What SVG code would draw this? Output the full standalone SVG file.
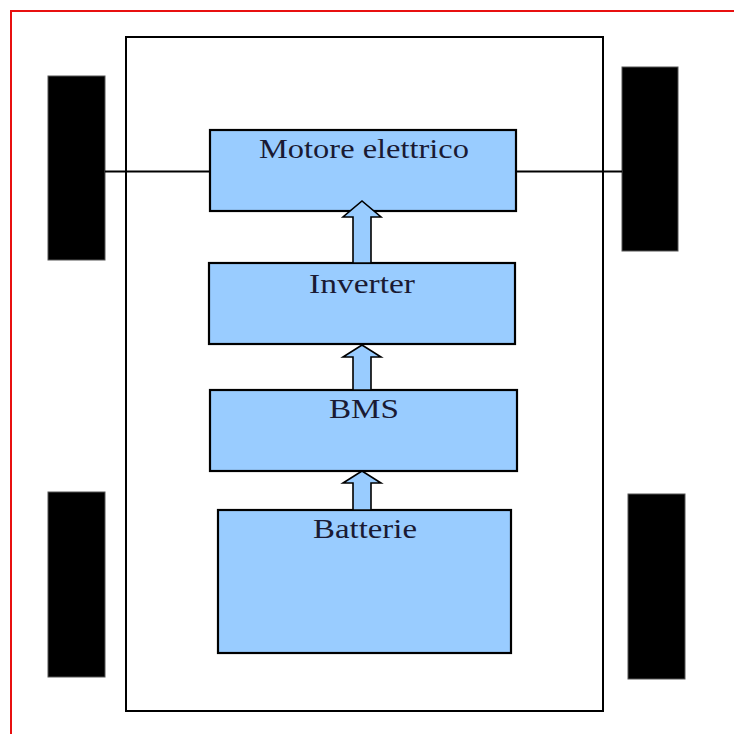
<svg xmlns="http://www.w3.org/2000/svg" width="734" height="734" viewBox="0 0 734 734">
  <style>
    .frame { fill: none; stroke: #e81010; stroke-width: 2; }
    .body { fill: #ffffff; stroke: #000000; stroke-width: 2; }
    .wheel { fill: #000000; stroke: #555555; stroke-width: 1; }
    .axle { stroke: #000000; stroke-width: 2; fill: none; }
    .box { fill: #99ccff; stroke: #000000; stroke-width: 2.2; }
    .arrow { fill: #99ccff; stroke: #000000; stroke-width: 1.6; stroke-linejoin: miter; }
    .label { font-family: "Liberation Serif", "Times New Roman", serif; font-size: 28px; fill: #1a1a33; text-anchor: middle; }
  </style>

  <rect width="734" height="734" fill="#ffffff"/>
  <!-- page border (top and left edges) -->
  <path class="frame" d="M11,734 V11 H734"/>

  <!-- vehicle body -->
  <rect id="body" class="body" x="126" y="37" width="477" height="674"/>

  <!-- wheels -->
  <g id="wheels">
    <rect id="wheel-front-left" class="wheel" x="48" y="76" width="57" height="184"/>
    <rect id="wheel-front-right" class="wheel" x="622" y="67" width="56" height="184"/>
    <rect id="wheel-rear-left" class="wheel" x="48" y="492" width="57" height="185"/>
    <rect id="wheel-rear-right" class="wheel" x="628" y="494" width="57" height="185"/>
  </g>

  <g id="motore">
    <rect class="box" x="210" y="130" width="306" height="81"/>
    <text class="label" x="364" y="158" textLength="210" lengthAdjust="spacingAndGlyphs">Motore elettrico</text>
  </g>

  <g id="inverter">
    <rect class="box" x="209" y="263" width="306" height="81"/>
    <text class="label" x="362" y="293" textLength="106" lengthAdjust="spacingAndGlyphs">Inverter</text>
  </g>

  <g id="bms">
    <rect class="box" x="210" y="390" width="307" height="81"/>
    <text class="label" x="364" y="418" textLength="70" lengthAdjust="spacingAndGlyphs">BMS</text>
  </g>

  <g id="batterie">
    <rect class="box" x="218" y="510" width="293" height="143"/>
    <text class="label" x="365" y="538" textLength="104" lengthAdjust="spacingAndGlyphs">Batterie</text>
  </g>

  <!-- connectors: axle shafts and power-flow arrows, drawn over the boxes -->
  <g id="connectors">
    <line class="axle" x1="105" y1="171.5" x2="210" y2="171.5"/>
    <line class="axle" x1="516" y1="171.5" x2="622" y2="171.5"/>
    <!-- Inverter to motor -->
    <polygon class="arrow" points="353,263 353,217 343,217 362,201 381,217 371,217 371,263"/>
    <!-- BMS to inverter -->
    <polygon class="arrow" points="353,390 353,357 343,357 362,345 381,357 371,357 371,390"/>
    <!-- Batteries to BMS -->
    <polygon class="arrow" points="353,510 353,483 343,483 362,471 381,483 371,483 371,510"/>
  </g>
</svg>
